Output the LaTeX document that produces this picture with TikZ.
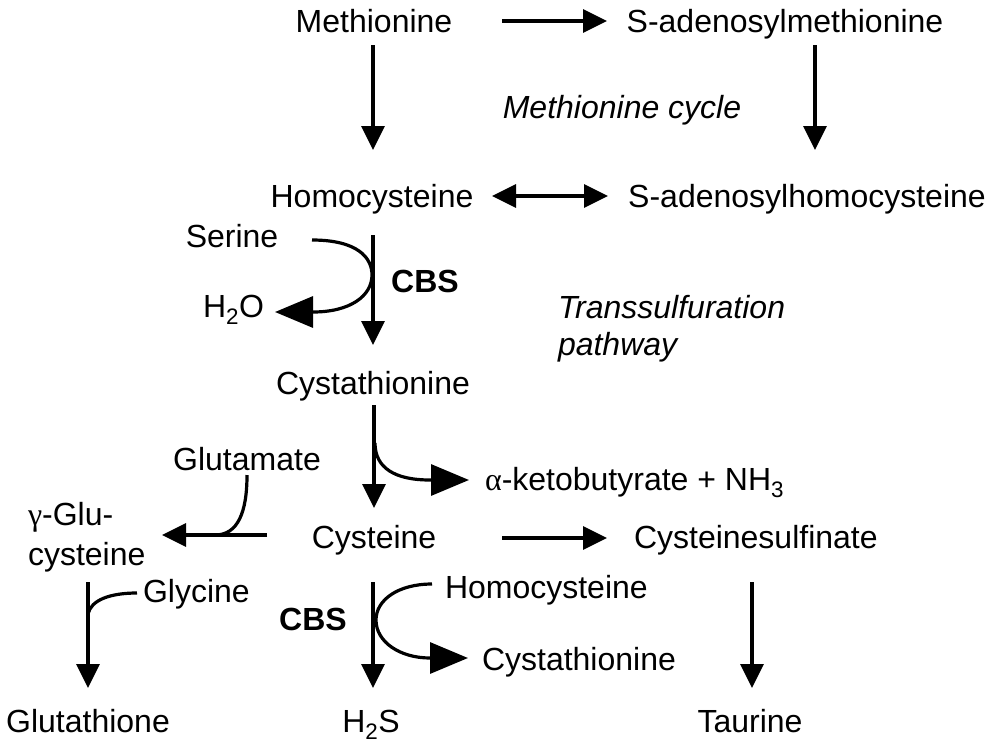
\documentclass[tikz,border=0pt]{standalone}
\usepackage{fontspec}
\setmainfont{Liberation Sans}
\newfontfamily\grk{Liberation Serif}
\usetikzlibrary{arrows.meta}
\begin{document}
\begin{tikzpicture}[x=1pt,y=-1pt,
  lbl/.style={inner sep=0pt,outer sep=0pt,anchor=base,font=\fontsize{32}{38}\selectfont},
  lblw/.style={lbl,anchor=base west},
  arr/.style={line width=3.2pt,-{Triangle[length=24pt,width=23pt]}},
  darr/.style={line width=3.2pt,{Triangle[length=24pt,width=23pt]}-{Triangle[length=24pt,width=23pt]}},
  barr/.style={line width=3.2pt,-{Triangle[length=38pt,width=31pt]}},
  ln/.style={line width=3.2pt}]
\useasboundingbox (0,0) rectangle (996,750);
% labels
\node[lbl] (met) at (374,32) {Methionine};
\node[lbl] (sam) at (785,32) {S-adenosylmethionine};
\node[lbl,font=\fontsize{32}{38}\selectfont\itshape] (mcyc) at (622,118) {Methionine cycle};
\node[lbl] (hcy) at (372,207) {Homocysteine};
\node[lbl] (sah) at (807,207) {S-adenosylhomocysteine};
\node[lbl] (ser) at (232,247) {Serine};
\node[lbl,font=\fontsize{32}{38}\selectfont\bfseries] (cbs1) at (425,292) {CBS};
\node[lblw] (h2o) at (203,317) {H\textsubscript{2}O};
\node[lblw,font=\fontsize{32}{38}\selectfont\itshape] (trs1) at (558,318) {Transsulfuration};
\node[lblw,font=\fontsize{32}{38}\selectfont\itshape] (trs2) at (558,355) {pathway};
\node[lbl] (cth) at (373,394) {Cystathionine};
\node[lbl] (glu) at (247,470) {Glutamate};
\node[lblw] (akb) at (485,490) {{\grk α}-ketobutyrate + NH\textsubscript{3}};
\node[lblw] (gg1) at (28,525) {{\grk γ}-Glu-};
\node[lblw] (gg2) at (28,565) {cysteine};
\node[lbl] (cys) at (374,548) {Cysteine};
\node[lblw] (csa) at (634,548) {Cysteinesulfinate};
\node[lblw] (gly) at (143,602) {Glycine};
\node[lblw] (hcy2) at (445,598) {Homocysteine};
\node[lbl,font=\fontsize{32}{38}\selectfont\bfseries] (cbs2) at (313,630) {CBS};
\node[lblw] (cth2) at (482,670) {Cystathionine};
\node[lbl] (gsh) at (88,732) {Glutathione};
\node[lbl] (h2s) at (371,732) {H\textsubscript{2}S};
\node[lbl] (tau) at (750,732) {Taurine};
% arrow end points
\coordinate (a1s) at (502,21);  \coordinate (a1e) at (607,21);
\coordinate (a2s) at (373,45);  \coordinate (a2e) at (373,150);
\coordinate (a3s) at (815,45);  \coordinate (a3e) at (815,150);
\coordinate (a4s) at (492,196); \coordinate (a4e) at (608,196);
\coordinate (a5s) at (373,235); \coordinate (a5e) at (373,345);
\coordinate (a6s) at (374,405); \coordinate (a6e) at (374,508);
\coordinate (a7s) at (267,535); \coordinate (a7e) at (162,535);
\coordinate (a8s) at (502,538); \coordinate (a8e) at (607,538);
\coordinate (a9s) at (88,582);  \coordinate (a9e) at (88,688);
\coordinate (a10s) at (373,582); \coordinate (a10e) at (373,688);
\coordinate (a11s) at (752,582); \coordinate (a11e) at (752,688);
% straight arrows
\draw[arr] (a1s) -- (a1e);
\draw[arr] (a2s) -- (a2e);
\draw[arr] (a3s) -- (a3e);
\draw[darr] (a4s) -- (a4e);
\draw[arr] (a5s) -- (a5e);
\draw[arr] (a6s) -- (a6e);
\draw[arr] (a7s) -- (a7e);
\draw[arr] (a8s) -- (a8e);
\draw[arr] (a9s) -- (a9e);
\draw[arr] (a10s) -- (a10e);
\draw[arr] (a11s) -- (a11e);
% curved side arrows
\coordinate (serS) at (312,240);
\coordinate (h2oE) at (275,312);
\draw[barr] (serS) .. controls (358,240) and (372,258) .. (372,275)
  .. controls (372,296) and (350,312) .. (313,312) -- (h2oE);
\coordinate (akbS) at (375,443);
\coordinate (akbE) at (469,480);
\draw[barr] (akbS) .. controls (375,468) and (395,480) .. (430,480) -- (akbE);
\coordinate (gluS) at (247,475);
\coordinate (gluE) at (215,535);
\draw[ln] (gluS) .. controls (247,512) and (238,535) .. (gluE);
\coordinate (glyS) at (137,593);
\coordinate (glyE) at (88,614);
\draw[ln] (glyS) .. controls (110,593) and (91,600) .. (glyE);
\coordinate (hcS) at (432,584);
\coordinate (hcE) at (468,658);
\draw[barr] (hcS) .. controls (398,584) and (376,600) .. (376,620)
  .. controls (376,642) and (400,658) .. (430,658) -- (hcE);
\end{tikzpicture}
\end{document}
